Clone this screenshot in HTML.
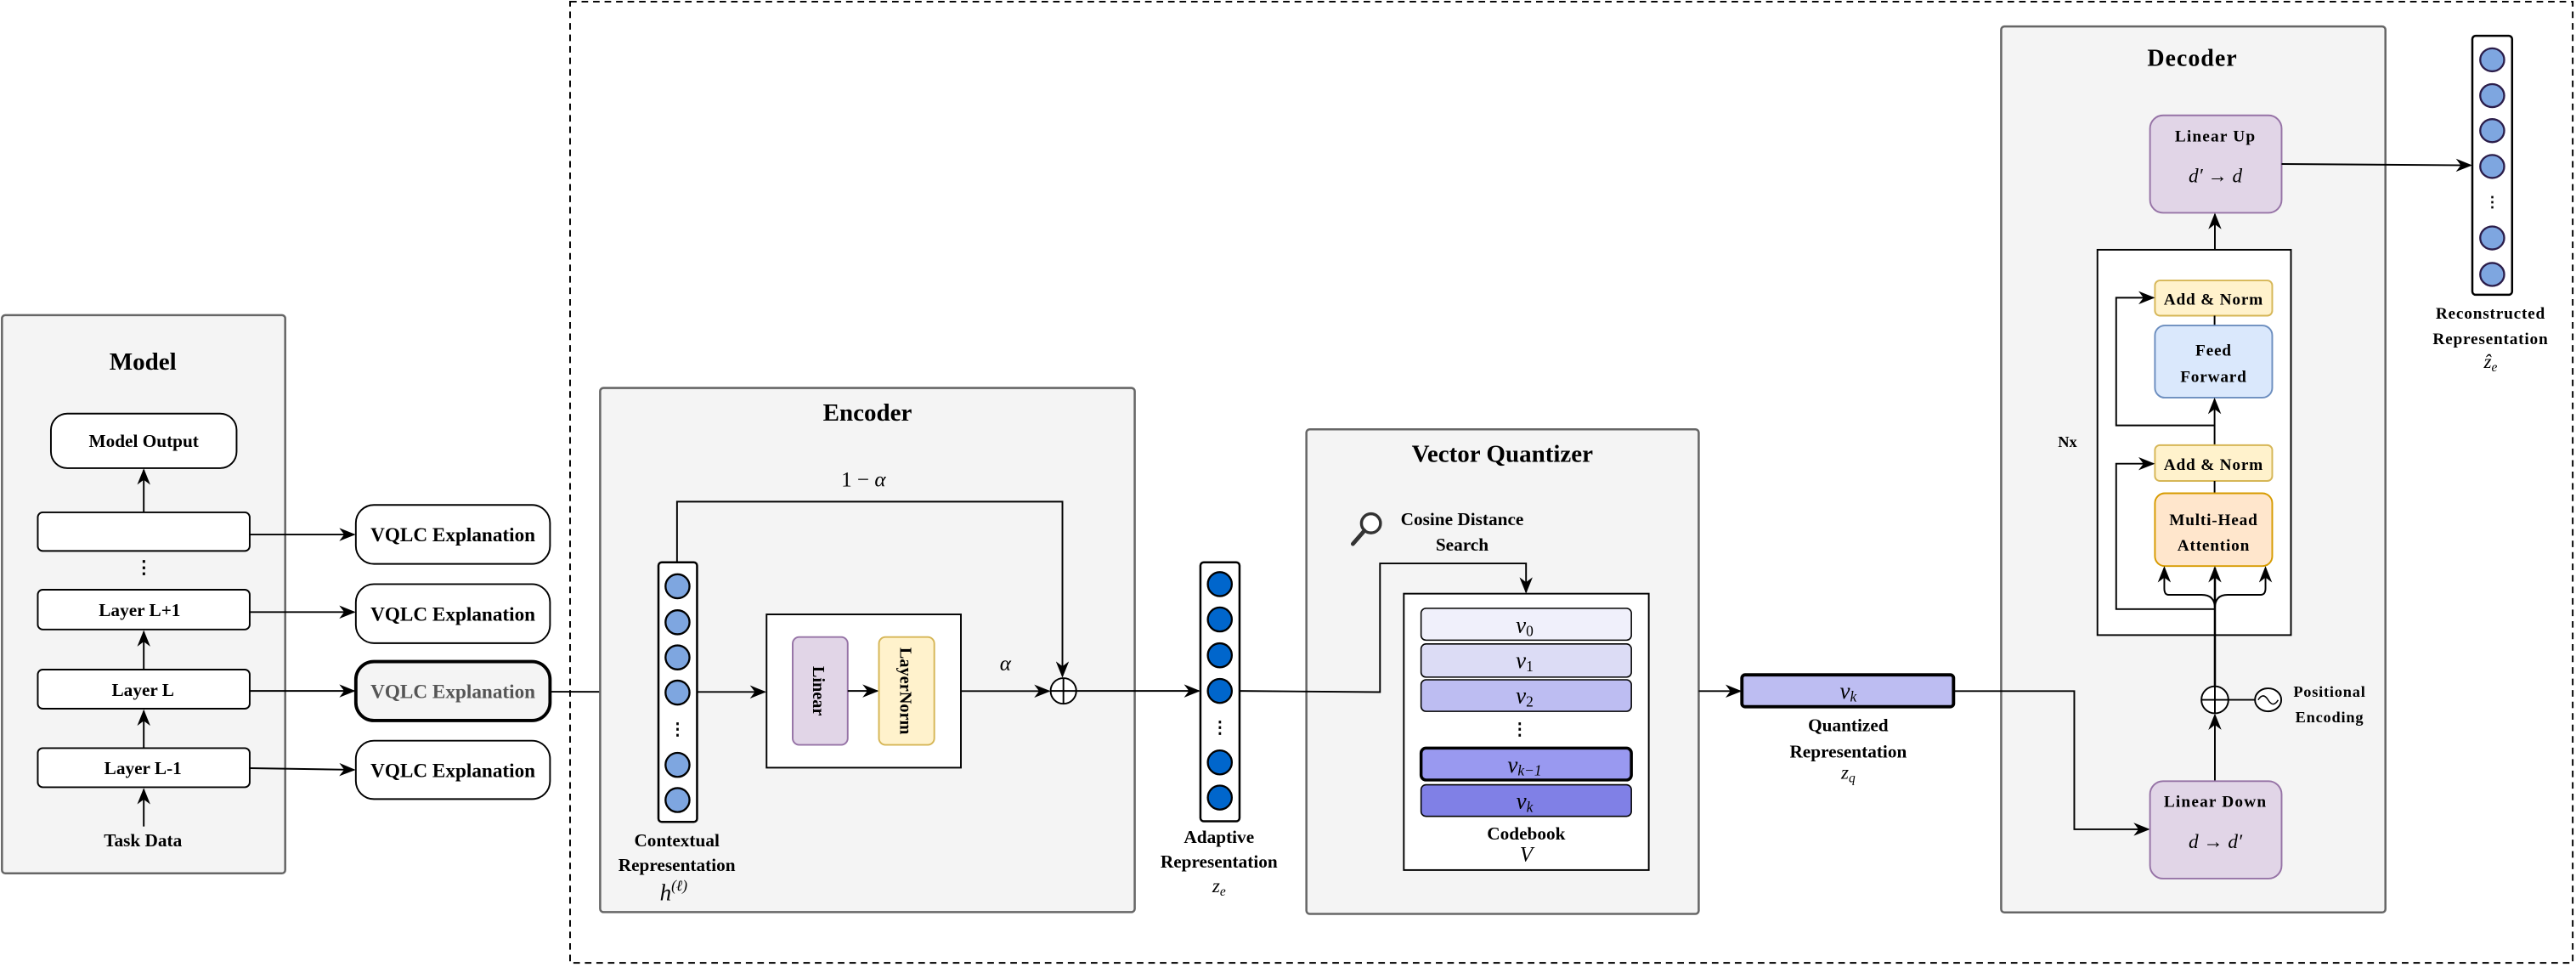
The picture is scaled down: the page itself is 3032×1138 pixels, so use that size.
<!DOCTYPE html>
<html><head><meta charset="utf-8"><style>
html,body{margin:0;padding:0;background:#fff;}
svg{display:block;}
text{font-family:"Liberation Serif",serif;font-weight:bold;fill:#000;}
.m{font-family:"Liberation Serif",serif;font-style:italic;font-weight:normal;}
</style></head><body>
<svg width="3032" height="1138" viewBox="0 0 1568 588.5" xmlns="http://www.w3.org/2000/svg">
<defs>
<marker id="a" markerWidth="10" markerHeight="8" refX="9" refY="4" orient="auto" markerUnits="userSpaceOnUse">
<path d="M0,0 L10,4 L0,8 L3,4 Z" fill="#000"/></marker>
</defs>
<rect x="347" y="1" width="1219" height="585" fill="none" stroke="#000" stroke-width="1" stroke-dasharray="4,3"/>

<!-- Model -->
<rect x="1.2" y="191.8" width="172.4" height="339.7" rx="2" fill="#f4f4f4" stroke="#666" stroke-width="1.3"/>
<text x="87" y="225" font-size="15" text-anchor="middle">Model</text>
<rect x="31" y="251.7" width="113" height="33.2" rx="10" fill="#fff" stroke="#000" stroke-width="1"/>
<text x="87.5" y="272" font-size="11" text-anchor="middle">Model Output</text>
<line x1="87.5" y1="311.8" x2="87.5" y2="286" stroke="#000" marker-end="url(#a)"/>
<rect x="23" y="311.8" width="129" height="23.5" rx="3" fill="#fff" stroke="#000"/>
<text x="87.5" y="349" font-size="11" text-anchor="middle">⋮</text>
<rect x="23" y="358.9" width="129" height="24.2" rx="3" fill="#fff" stroke="#000"/>
<text x="85" y="375" font-size="11" text-anchor="middle">Layer L+1</text>
<line x1="87.5" y1="407.5" x2="87.5" y2="384.5" stroke="#000" marker-end="url(#a)"/>
<rect x="23" y="407.5" width="129" height="23.8" rx="3" fill="#fff" stroke="#000"/>
<text x="87" y="423.5" font-size="11" text-anchor="middle">Layer L</text>
<line x1="87.5" y1="455.3" x2="87.5" y2="432.7" stroke="#000" marker-end="url(#a)"/>
<rect x="23" y="455.3" width="129" height="23.8" rx="3" fill="#fff" stroke="#000"/>
<text x="87" y="471" font-size="11" text-anchor="middle">Layer L-1</text>
<line x1="87.5" y1="503" x2="87.5" y2="480.5" stroke="#000" marker-end="url(#a)"/>
<text x="87" y="515" font-size="11" text-anchor="middle">Task Data</text>

<!-- VQLC -->
<g stroke="#000">
<line x1="152" y1="325.3" x2="215.5" y2="325.3" marker-end="url(#a)"/>
<line x1="152" y1="372.5" x2="215.5" y2="372.5" marker-end="url(#a)"/>
<line x1="152" y1="420.5" x2="215.5" y2="420.5" marker-end="url(#a)"/>
<line x1="152" y1="467.5" x2="215.5" y2="468.5" marker-end="url(#a)"/>
</g>
<rect x="216.6" y="307.3" width="118.2" height="35.9" rx="11" fill="#fff" stroke="#000"/>
<text x="275.7" y="329.5" font-size="12" text-anchor="middle">VQLC Explanation</text>
<rect x="216.6" y="355.5" width="118.2" height="35.9" rx="11" fill="#fff" stroke="#000"/>
<text x="275.7" y="377.7" font-size="12" text-anchor="middle">VQLC Explanation</text>
<rect x="216.6" y="402.6" width="118.2" height="35.9" rx="11" fill="#f4f4f4" stroke="#000" stroke-width="2"/>
<text x="275.7" y="424.8" font-size="12" text-anchor="middle" style="fill:#555">VQLC Explanation</text>
<rect x="216.6" y="450.8" width="118.2" height="35.5" rx="11" fill="#fff" stroke="#000"/>
<text x="275.7" y="472.8" font-size="12" text-anchor="middle">VQLC Explanation</text>
<line x1="334.8" y1="421" x2="399.5" y2="421.1" stroke="#000" marker-end="url(#a)"/>

<!-- Encoder -->
<rect x="365.3" y="236.1" width="325.4" height="319" rx="2" fill="#f4f4f4" stroke="#666" stroke-width="1.3"/>
<text x="528" y="256" font-size="15" text-anchor="middle">Encoder</text>
<text x="525.6" y="296" font-size="13" text-anchor="middle" class="m" style="font-style:normal">1 − <tspan font-style="italic">α</tspan></text>
<polyline points="412.1,342.2 412.1,305.3 646.7,305.3 646.7,411.5" fill="none" stroke="#000" marker-end="url(#a)"/>
<rect x="400.8" y="342.2" width="23.5" height="158" rx="2" fill="#fff" stroke="#000" stroke-width="1.3"/>
<g fill="#7ea6e0" stroke="#000" stroke-width="1.2">
<circle cx="412.4" cy="356.8" r="7.3"/><circle cx="412.4" cy="378.7" r="7.3"/><circle cx="412.4" cy="400.1" r="7.3"/><circle cx="412.4" cy="421.5" r="7.3"/><circle cx="412.4" cy="465.5" r="7.3"/><circle cx="412.4" cy="486.9" r="7.3"/>
</g>
<text x="412.4" y="447" font-size="10" text-anchor="middle">⋮</text>
<line x1="424.3" y1="421.1" x2="465.5" y2="421.1" stroke="#000" marker-end="url(#a)"/>
<rect x="466.6" y="373.9" width="118.3" height="93.3" fill="#fff" stroke="#000" stroke-width="1"/>
<rect x="482.5" y="387.7" width="33.5" height="65.6" rx="4" fill="#e1d5e7" stroke="#9673a6"/>
<text transform="translate(495,420.5) rotate(90)" font-size="10.5" text-anchor="middle">Linear</text>
<line x1="516" y1="420.5" x2="534" y2="420.5" stroke="#000" marker-end="url(#a)"/>
<rect x="535" y="387.7" width="33.7" height="65.6" rx="4" fill="#fff2cc" stroke="#d6b656"/>
<text transform="translate(548,420.5) rotate(90)" font-size="10.5" text-anchor="middle">LayerNorm</text>
<line x1="584.9" y1="420.6" x2="638.5" y2="420.6" stroke="#000" marker-end="url(#a)"/>
<text x="612" y="408" font-size="13" class="m" text-anchor="middle">α</text>
<circle cx="647.3" cy="420.5" r="7.8" fill="#fff" stroke="#000"/>
<line x1="639.5" y1="420.5" x2="655.1" y2="420.5" stroke="#000"/>
<line x1="647.3" y1="412.7" x2="647.3" y2="428.3" stroke="#000"/>
<line x1="655.1" y1="420.5" x2="729.7" y2="420.5" stroke="#000" marker-end="url(#a)"/>
<text x="412" y="515" font-size="11" text-anchor="middle">Contextual</text>
<text x="412" y="530" font-size="11" text-anchor="middle">Representation</text>
<text x="410" y="548" font-size="14" class="m" text-anchor="middle">h<tspan font-size="9" dy="-6">(ℓ)</tspan></text>

<!-- Adaptive -->
<rect x="730.7" y="342.2" width="23.8" height="157.6" rx="2" fill="#fff" stroke="#000" stroke-width="1.3"/>
<g fill="#0066cc" stroke="#000" stroke-width="1.2">
<circle cx="742.5" cy="355.5" r="7.3"/><circle cx="742.5" cy="377" r="7.3"/><circle cx="742.5" cy="398.8" r="7.3"/><circle cx="742.5" cy="420.5" r="7.3"/><circle cx="742.5" cy="464" r="7.3"/><circle cx="742.5" cy="485.4" r="7.3"/>
</g>
<text x="742.5" y="446" font-size="10" text-anchor="middle">⋮</text>
<text x="742" y="513" font-size="11" text-anchor="middle">Adaptive</text>
<text x="742" y="528" font-size="11" text-anchor="middle">Representation</text>
<text x="742" y="543" font-size="12" class="m" text-anchor="middle">z<tspan font-size="8" dy="2">e</tspan></text>

<!-- VQ -->
<rect x="795.2" y="261.3" width="238.8" height="294.9" rx="2" fill="#f4f4f4" stroke="#666" stroke-width="1.3"/>
<polyline points="754.5,420.5 840,421.2 840,342.9 928.9,342.9 928.9,360.3" fill="none" stroke="#000" marker-end="url(#a)"/>
<text x="914.5" y="281" font-size="15" text-anchor="middle">Vector Quantizer</text>
<circle cx="834.5" cy="318.5" r="5.8" fill="#fff" stroke="#333" stroke-width="1.8"/>
<line x1="830.5" y1="323" x2="823.5" y2="331" stroke="#333" stroke-width="2.5" stroke-linecap="round"/>
<text x="890" y="319.5" font-size="11" text-anchor="middle">Cosine Distance</text>
<text x="890" y="335" font-size="11" text-anchor="middle">Search</text>
<rect x="854.5" y="361.3" width="149.1" height="168.2" fill="#fff" stroke="#000" stroke-width="1"/>
<rect x="865" y="370.2" width="128" height="19.4" rx="3" fill="#f0f0fb" stroke="#000" stroke-width="0.8"/>
<text x="928" y="385" font-size="14" class="m" text-anchor="middle">v<tspan font-size="9" font-style="normal" dy="2">0</tspan></text>
<rect x="865" y="391.9" width="128" height="20.2" rx="3" fill="#dcdcf5" stroke="#000" stroke-width="0.8"/>
<text x="928" y="406.5" font-size="14" class="m" text-anchor="middle">v<tspan font-size="9" font-style="normal" dy="2">1</tspan></text>
<rect x="865" y="413.7" width="128" height="19.2" rx="3" fill="#bdbdf2" stroke="#000" stroke-width="0.8"/>
<text x="928" y="428" font-size="14" class="m" text-anchor="middle">v<tspan font-size="9" font-style="normal" dy="2">2</tspan></text>
<text x="925" y="447" font-size="10" text-anchor="middle">⋮</text>
<rect x="865" y="455.3" width="128" height="19.4" rx="3" fill="#9999f0" stroke="#000" stroke-width="1.8"/>
<text x="928" y="470" font-size="14" class="m" text-anchor="middle">v<tspan font-size="9" dy="2">k−1</tspan></text>
<rect x="865" y="477.6" width="128" height="19.2" rx="3" fill="#8080e6" stroke="#000" stroke-width="0.8"/>
<text x="928" y="492" font-size="14" class="m" text-anchor="middle">v<tspan font-size="9" dy="2">k</tspan></text>
<text x="929" y="511" font-size="11" text-anchor="middle">Codebook</text>
<text x="929" y="524" font-size="13" class="m" text-anchor="middle">V</text>

<!-- Quantized -->
<line x1="1034" y1="420.6" x2="1059.3" y2="420.6" stroke="#000" marker-end="url(#a)"/>
<rect x="1060.3" y="410.7" width="128.8" height="19.4" rx="2" fill="#bdbdf2" stroke="#000" stroke-width="2"/>
<text x="1125" y="425" font-size="14" class="m" text-anchor="middle">v<tspan font-size="9" dy="2">k</tspan></text>
<text x="1125" y="445" font-size="11" text-anchor="middle">Quantized</text>
<text x="1125" y="461" font-size="11" text-anchor="middle">Representation</text>
<text x="1125" y="474" font-size="12" class="m" text-anchor="middle">z<tspan font-size="8" dy="2">q</tspan></text>

<!-- Decoder -->
<rect x="1218.1" y="16.1" width="233.9" height="539.2" rx="2" fill="#f4f4f4" stroke="#666" stroke-width="1.3"/>
<polyline points="1189.1,420.6 1262.6,420.6 1262.6,504.7 1307.7,504.7" fill="none" stroke="#000" marker-end="url(#a)"/>
<text x="1334.5" y="40" font-size="14.5" text-anchor="middle" letter-spacing="0.5">Decoder</text>
<rect x="1308.7" y="70.2" width="80.1" height="59.3" rx="8" fill="#e1d5e7" stroke="#9673a6"/>
<text x="1348.5" y="86" font-size="10" text-anchor="middle" letter-spacing="0.6">Linear Up</text>
<text x="1348.5" y="111" font-size="12" class="m" text-anchor="middle">d′ → d</text>
<line x1="1348.2" y1="152" x2="1348.2" y2="130.5" stroke="#000" marker-end="url(#a)"/>
<rect x="1276.7" y="152" width="117.8" height="234.5" fill="#fff" stroke="#000" stroke-width="1"/>
<rect x="1311.7" y="170.7" width="71.4" height="21.4" rx="3" fill="#fff2cc" stroke="#d6b656"/>
<text x="1347.4" y="185.5" font-size="10" text-anchor="middle" letter-spacing="0.4">Add &amp; Norm</text>
<line x1="1348" y1="192.1" x2="1348" y2="198.1" stroke="#000"/>
<rect x="1311.7" y="198.1" width="71.4" height="43.9" rx="6" fill="#dae8fc" stroke="#6c8ebf"/>
<text x="1347.4" y="216.5" font-size="10" text-anchor="middle" letter-spacing="0.4">Feed</text>
<text x="1347.4" y="232.5" font-size="10" text-anchor="middle" letter-spacing="0.4">Forward</text>
<line x1="1348" y1="270.9" x2="1348" y2="243" stroke="#000" marker-end="url(#a)"/>
<polyline points="1348,258.9 1288.1,258.9 1288.1,181.2 1310.7,181.2" fill="none" stroke="#000" marker-end="url(#a)"/>
<rect x="1311.7" y="270.9" width="71.4" height="21.8" rx="3" fill="#fff2cc" stroke="#d6b656"/>
<text x="1347.4" y="286" font-size="10" text-anchor="middle" letter-spacing="0.4">Add &amp; Norm</text>
<line x1="1348" y1="292.7" x2="1348" y2="300.2" stroke="#000"/>
<rect x="1311.7" y="300.2" width="71.4" height="44.3" rx="6" fill="#ffe6cc" stroke="#d79b00"/>
<text x="1347.4" y="319.5" font-size="10" text-anchor="middle" letter-spacing="0.4">Multi-Head</text>
<text x="1347.4" y="335" font-size="10" text-anchor="middle" letter-spacing="0.4">Attention</text>
<polyline points="1348,370.7 1288.1,370.7 1288.1,282.2 1310.7,282.2" fill="none" stroke="#000" marker-end="url(#a)"/>
<line x1="1348.2" y1="417.6" x2="1348.2" y2="345.5" stroke="#000" stroke-width="1.3" marker-end="url(#a)"/>
<path d="M1348.2,370 Q1348.2,362 1340,362 L1320,362 Q1317.4,362 1317.4,358 L1317.4,345.5" fill="none" stroke="#000" marker-end="url(#a)"/>
<path d="M1348.2,370 Q1348.2,362 1356,362 L1376,362 Q1379,362 1379,358 L1379,345.5" fill="none" stroke="#000" marker-end="url(#a)"/>
<text x="1258.5" y="272" font-size="9.5" text-anchor="middle">Nx</text>
<circle cx="1348.2" cy="425.9" r="8.2" fill="#fff" stroke="#000"/>
<line x1="1340" y1="425.9" x2="1356.4" y2="425.9" stroke="#000"/>
<line x1="1348.2" y1="417.7" x2="1348.2" y2="434.1" stroke="#000"/>
<line x1="1356.4" y1="425.9" x2="1372.6" y2="425.9" stroke="#000"/>
<ellipse cx="1380.6" cy="425.9" rx="8" ry="7" fill="#fff" stroke="#000"/>
<path d="M1374.5,426 Q1377.5,421 1380.6,426 Q1383.7,431 1386.7,426" fill="none" stroke="#000" stroke-width="0.8"/>
<text x="1418" y="424" font-size="9.5" text-anchor="middle" letter-spacing="0.4">Positional</text>
<text x="1418" y="439.5" font-size="9.5" text-anchor="middle" letter-spacing="0.4">Encoding</text>
<line x1="1348.2" y1="475.4" x2="1348.2" y2="435.2" stroke="#000" marker-end="url(#a)"/>
<rect x="1308.7" y="475.4" width="80.1" height="59.3" rx="8" fill="#e1d5e7" stroke="#9673a6"/>
<text x="1348.5" y="491" font-size="10" text-anchor="middle" letter-spacing="0.6">Linear Down</text>
<text x="1348.5" y="516" font-size="12" class="m" text-anchor="middle">d → d′</text>

<!-- Output -->
<line x1="1388.8" y1="99.8" x2="1503.9" y2="100.6" stroke="#000" marker-end="url(#a)"/>
<rect x="1504.9" y="21.8" width="24.2" height="157.6" rx="2" fill="#fff" stroke="#000" stroke-width="1.3"/>
<g fill="#7ea6e0" stroke="#2b1d4a" stroke-width="1.2">
<ellipse cx="1517" cy="36.4" rx="7.3" ry="7"/><ellipse cx="1517" cy="58.2" rx="7.3" ry="7"/><ellipse cx="1517" cy="79.5" rx="7.3" ry="7"/><ellipse cx="1517" cy="101.3" rx="7.3" ry="7"/><ellipse cx="1517" cy="144.8" rx="7.3" ry="7"/><ellipse cx="1517" cy="167" rx="7.3" ry="7"/>
</g>
<text x="1517" y="126" font-size="9" text-anchor="middle">⋮</text>
<text x="1516" y="194" font-size="10" text-anchor="middle" letter-spacing="0.4">Reconstructed</text>
<text x="1516" y="209.5" font-size="10" text-anchor="middle" letter-spacing="0.4">Representation</text>
<text x="1516" y="224" font-size="12" class="m" text-anchor="middle">ẑ<tspan font-size="8" dy="2">e</tspan></text>
</svg>
</body></html>
